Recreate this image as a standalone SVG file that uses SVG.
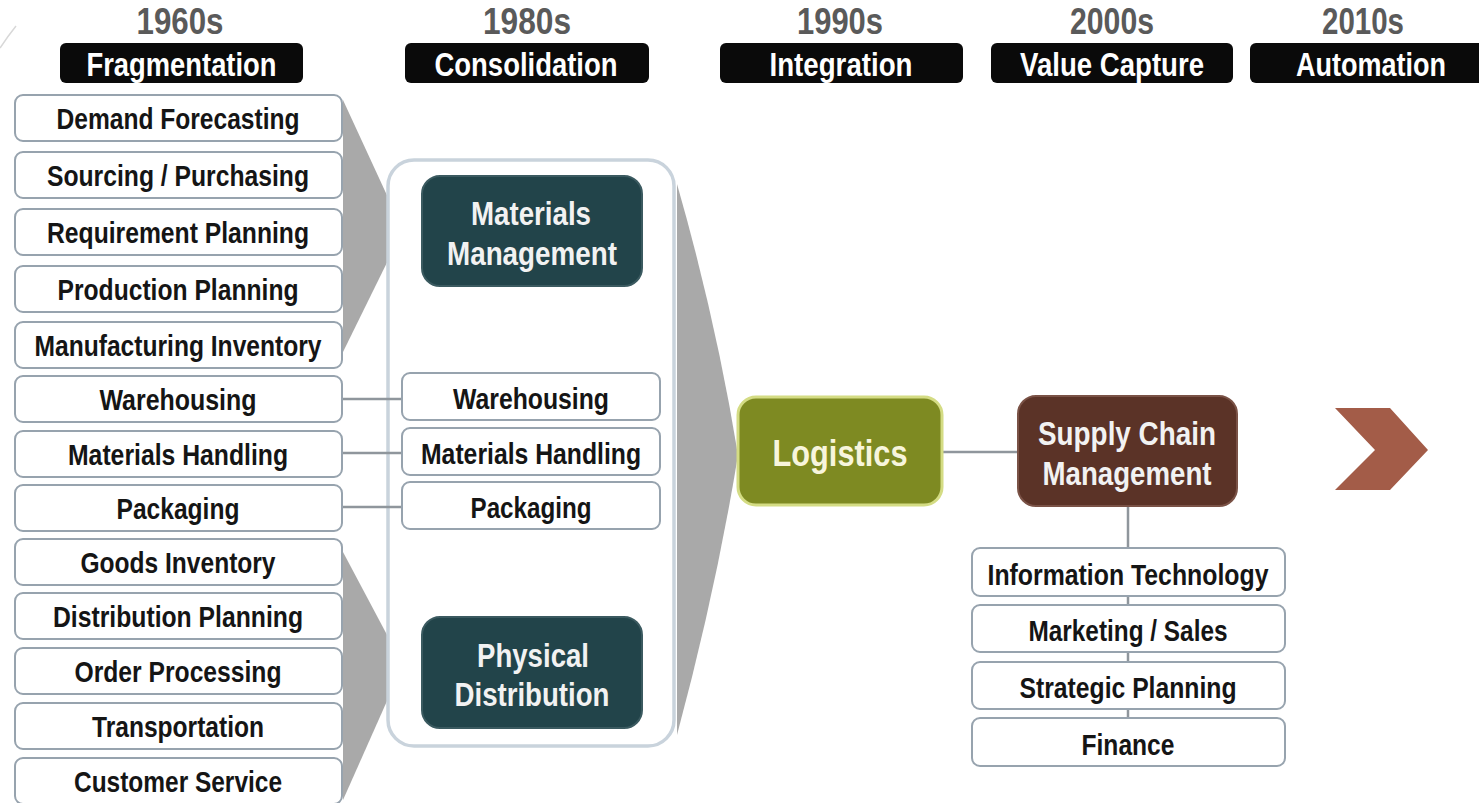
<svg xmlns="http://www.w3.org/2000/svg" width="1479" height="803" viewBox="0 0 1479 803">
<style>
.t{font-family:'Liberation Sans Narrow','Arial Narrow','Liberation Sans',sans-serif;font-weight:bold;text-anchor:middle;dominant-baseline:central}
.yr{font-size:37px;fill:#5a5a5a}
.hd{font-size:33px;fill:#ffffff}
.hb{fill:#0a0a0a}
.bx{fill:#ffffff;stroke:#97a3ae;stroke-width:2}
.bt{font-size:30px;fill:#151515}
.dk{fill:#22444a;stroke:#3b5a60;stroke-width:2}
.wt{font-size:34px;fill:#f2f2f2}
.cn{stroke:#8f969c;stroke-width:2.5;fill:none}
.gy{fill:#a9a9a9}
</style>
<path d="M0 48 Q8 36 16 26" stroke="#d8d8d8" stroke-width="1.5" fill="none"/>
<g id="headers">
<text class="t yr" x="180" y="21" textLength="87" lengthAdjust="spacingAndGlyphs">1960s</text>
<rect class="hb" x="60" y="43" width="243" height="40" rx="6"/>
<text class="t hd" x="181.5" y="64" textLength="190" lengthAdjust="spacingAndGlyphs">Fragmentation</text>
<text class="t yr" x="527" y="21" textLength="88" lengthAdjust="spacingAndGlyphs">1980s</text>
<rect class="hb" x="405" y="43" width="244" height="40" rx="6"/>
<text class="t hd" x="526" y="64" textLength="183" lengthAdjust="spacingAndGlyphs">Consolidation</text>
<text class="t yr" x="840" y="21" textLength="86" lengthAdjust="spacingAndGlyphs">1990s</text>
<rect class="hb" x="720" y="43" width="243" height="40" rx="6"/>
<text class="t hd" x="841" y="64" textLength="143" lengthAdjust="spacingAndGlyphs">Integration</text>
<text class="t yr" x="1112" y="21" textLength="84" lengthAdjust="spacingAndGlyphs">2000s</text>
<rect class="hb" x="991" y="43" width="242" height="40" rx="6"/>
<text class="t hd" x="1112" y="64" textLength="184" lengthAdjust="spacingAndGlyphs">Value Capture</text>
<text class="t yr" x="1363" y="21" textLength="82" lengthAdjust="spacingAndGlyphs">2010s</text>
<rect class="hb" x="1250" y="43" width="240" height="40" rx="6"/>
<text class="t hd" x="1371" y="64" textLength="150" lengthAdjust="spacingAndGlyphs">Automation</text>
</g>
<g id="chevrons">
<polygon class="gy" points="343,100 403,230 343,352"/>
<polygon class="gy" points="343,552 403,665 343,800"/>
<path class="gy" d="M677 184 Q716 320 738 455 Q716 590 677 735 Z"/>
<polygon id="next-arrow" fill="#a35c48" points="1335,408 1390,408 1428,450 1390,490 1335,490 1375,450"/>
</g>
<g id="container">
<rect x="388" y="160" width="286" height="586" rx="26" fill="#ffffff" stroke="#c9d3dc" stroke-width="3.5"/>
</g>
<g id="connectors">
<line class="cn" x1="342" y1="399" x2="402" y2="399"/>
<line class="cn" x1="342" y1="453" x2="402" y2="453"/>
<line class="cn" x1="342" y1="507" x2="402" y2="507"/>
<line class="cn" x1="942" y1="452" x2="1018" y2="452"/>
<line class="cn" x1="1128" y1="506" x2="1128" y2="720"/>
</g>
<g id="left-column">
<g id="n-demand"><rect class="bx" x="15" y="95" width="327" height="46" rx="8"/><text class="t bt" x="178" y="118" textLength="243" lengthAdjust="spacingAndGlyphs">Demand Forecasting</text></g>
<g id="n-sourcing"><rect class="bx" x="15" y="152" width="327" height="46" rx="8"/><text class="t bt" x="178" y="175" textLength="262" lengthAdjust="spacingAndGlyphs">Sourcing / Purchasing</text></g>
<g id="n-requirement"><rect class="bx" x="15" y="209" width="327" height="46" rx="8"/><text class="t bt" x="178" y="232" textLength="262" lengthAdjust="spacingAndGlyphs">Requirement Planning</text></g>
<g id="n-production"><rect class="bx" x="15" y="266" width="327" height="46" rx="8"/><text class="t bt" x="178" y="289" textLength="241" lengthAdjust="spacingAndGlyphs">Production Planning</text></g>
<g id="n-manufacturing"><rect class="bx" x="15" y="322" width="327" height="46" rx="8"/><text class="t bt" x="178" y="345" textLength="287" lengthAdjust="spacingAndGlyphs">Manufacturing Inventory</text></g>
<g id="n-warehousing"><rect class="bx" x="15" y="376" width="327" height="46" rx="8"/><text class="t bt" x="178" y="399" textLength="157" lengthAdjust="spacingAndGlyphs">Warehousing</text></g>
<g id="n-handling"><rect class="bx" x="15" y="431" width="327" height="46" rx="8"/><text class="t bt" x="178" y="454" textLength="220" lengthAdjust="spacingAndGlyphs">Materials Handling</text></g>
<g id="n-packaging"><rect class="bx" x="15" y="485" width="327" height="46" rx="8"/><text class="t bt" x="178" y="508" textLength="123" lengthAdjust="spacingAndGlyphs">Packaging</text></g>
<g id="n-goods"><rect class="bx" x="15" y="539" width="327" height="46" rx="8"/><text class="t bt" x="178" y="562" textLength="195" lengthAdjust="spacingAndGlyphs">Goods Inventory</text></g>
<g id="n-distplan"><rect class="bx" x="15" y="593" width="327" height="46" rx="8"/><text class="t bt" x="178" y="616" textLength="250" lengthAdjust="spacingAndGlyphs">Distribution Planning</text></g>
<g id="n-order"><rect class="bx" x="15" y="648" width="327" height="46" rx="8"/><text class="t bt" x="178" y="671" textLength="207" lengthAdjust="spacingAndGlyphs">Order Processing</text></g>
<g id="n-transport"><rect class="bx" x="15" y="703" width="327" height="46" rx="8"/><text class="t bt" x="178" y="726" textLength="172" lengthAdjust="spacingAndGlyphs">Transportation</text></g>
<g id="n-customer"><rect class="bx" x="15" y="758" width="327" height="46" rx="8"/><text class="t bt" x="178" y="781" textLength="208" lengthAdjust="spacingAndGlyphs">Customer Service</text></g>
</g>
<g id="n-materials-mgmt"><rect class="dk" x="422" y="176" width="220" height="110" rx="18"/><text class="t wt" x="531" y="213" textLength="120" lengthAdjust="spacingAndGlyphs">Materials</text><text class="t wt" x="532" y="253" textLength="170" lengthAdjust="spacingAndGlyphs">Management</text></g>
<g id="n-m-warehousing"><rect class="bx" x="402" y="373" width="258" height="47" rx="8"/><text class="t bt" x="531" y="398" textLength="156" lengthAdjust="spacingAndGlyphs">Warehousing</text></g>
<g id="n-m-handling"><rect class="bx" x="402" y="428" width="258" height="47" rx="8"/><text class="t bt" x="531" y="453" textLength="220" lengthAdjust="spacingAndGlyphs">Materials Handling</text></g>
<g id="n-m-packaging"><rect class="bx" x="402" y="482" width="258" height="47" rx="8"/><text class="t bt" x="531" y="507" textLength="121" lengthAdjust="spacingAndGlyphs">Packaging</text></g>
<g id="n-physical"><rect class="dk" x="422" y="617" width="220" height="111" rx="18"/><text class="t wt" x="533" y="655" textLength="112" lengthAdjust="spacingAndGlyphs">Physical</text><text class="t wt" x="532" y="694" textLength="155" lengthAdjust="spacingAndGlyphs">Distribution</text></g>
<g id="n-logistics"><rect x="738" y="397" width="204" height="108" rx="18" fill="#7e8a22" stroke="#d4dc84" stroke-width="3"/><text class="t wt" x="840" y="453" textLength="135" lengthAdjust="spacingAndGlyphs" style="font-size:37px;fill:#f7f5dc">Logistics</text></g>
<g id="n-scm"><rect x="1018" y="396" width="219" height="110" rx="18" fill="#5b3327" stroke="#7a5246" stroke-width="2"/><text class="t wt" x="1127" y="433" textLength="178" lengthAdjust="spacingAndGlyphs">Supply Chain</text><text class="t wt" x="1127" y="473" textLength="169" lengthAdjust="spacingAndGlyphs">Management</text></g>
<g id="n-it"><rect class="bx" x="972" y="548" width="313" height="48" rx="8"/><text class="t bt" x="1128" y="574" textLength="281" lengthAdjust="spacingAndGlyphs">Information Technology</text></g>
<g id="n-marketing"><rect class="bx" x="972" y="605" width="313" height="47" rx="8"/><text class="t bt" x="1128" y="630" textLength="199" lengthAdjust="spacingAndGlyphs">Marketing / Sales</text></g>
<g id="n-strategic"><rect class="bx" x="972" y="662" width="313" height="47" rx="8"/><text class="t bt" x="1128" y="687" textLength="217" lengthAdjust="spacingAndGlyphs">Strategic Planning</text></g>
<g id="n-finance"><rect class="bx" x="972" y="718" width="313" height="48" rx="8"/><text class="t bt" x="1128" y="744" textLength="93" lengthAdjust="spacingAndGlyphs">Finance</text></g>
</svg>
